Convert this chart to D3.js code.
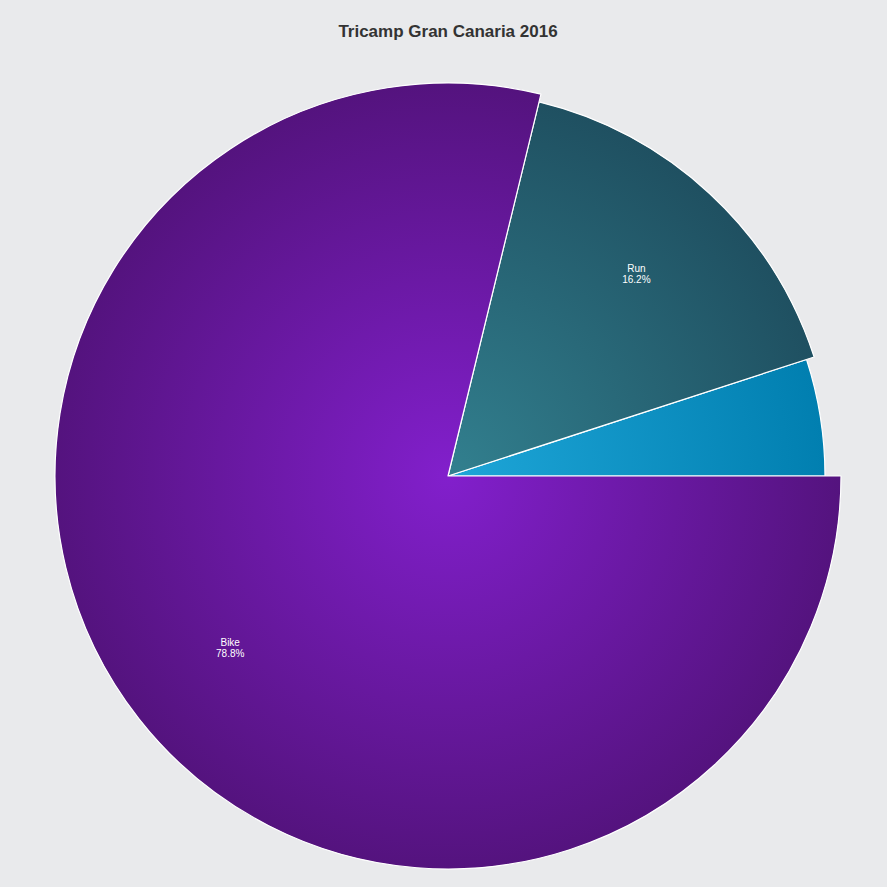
<!DOCTYPE html>
<html><head><meta charset="utf-8">
<script src="https://cdn.jsdelivr.net/npm/d3@7"></script>
<style>
html,body{margin:0;padding:0;background:#e9eaec;}
svg{display:block;}
</style></head>
<body>
<script>
const title = "Tricamp Gran Canaria 2016";
const categories = ["Swim", "Run", "Bike"];
const values = [5.0, 16.2, 78.8];
const showLabel = [false, true, true];
const innerColors = ["#1ea6d8", "#32808f", "#821fcc"];
const outerColors = ["#017fb0", "#1f5061", "#54137e"];

const W = 887, H = 887;
const cx = 448, cy = 476;
const baseR = 377, stepR = 8, labelR = 277;

const svg = d3.select("body").append("svg").attr("width", W).attr("height", H);
svg.append("rect").attr("width", W).attr("height", H).attr("fill", "#e9eaec");

svg.append("text").attr("x", 448).attr("y", 37).attr("text-anchor", "middle")
  .attr("font-family", "Liberation Sans, Arial, sans-serif").attr("font-weight", "bold")
  .attr("font-size", 17).attr("fill", "#333").text(title);

const data = categories.map((c, i) => ({cat: c, value: values[i], i}));
const pie = d3.pie().sort(null).value(d => d.value)
  .startAngle(Math.PI / 2).endAngle(Math.PI / 2 - 2 * Math.PI);
const arcsData = pie(data);

const defs = svg.append("defs");
data.forEach((d, i) => {
  const r = baseR + i * stepR;
  const g = defs.append("radialGradient").attr("id", "grad" + i)
    .attr("gradientUnits", "userSpaceOnUse").attr("cx", 0).attr("cy", 0).attr("r", r);
  g.append("stop").attr("offset", "0%").attr("stop-color", innerColors[i]);
  g.append("stop").attr("offset", "100%").attr("stop-color", outerColors[i]);
});

const gPie = svg.append("g").attr("transform", `translate(${cx},${cy})`);
gPie.selectAll("path").data(arcsData).join("path")
  .attr("d", d => d3.arc().innerRadius(0).outerRadius(baseR + d.data.i * stepR)(d))
  .attr("fill", d => `url(#grad${d.data.i})`)
  .attr("stroke", "#ffffff").attr("stroke-width", 1.2).attr("stroke-linejoin", "round");

const labelArc = d3.arc().innerRadius(labelR).outerRadius(labelR);
const labels = gPie.selectAll("g.lbl").data(arcsData.filter(d => showLabel[d.data.i])).join("g")
  .attr("class", "lbl")
  .attr("transform", d => { const c = labelArc.centroid(d); return `translate(${c[0]},${c[1]})`; });
labels.append("text").attr("text-anchor", "middle").attr("y", -1)
  .attr("font-family", "Liberation Sans, Arial, sans-serif").attr("font-size", 10)
  .attr("fill", "#ffffff").text(d => d.data.cat);
labels.append("text").attr("text-anchor", "middle").attr("y", 10)
  .attr("font-family", "Liberation Sans, Arial, sans-serif").attr("font-size", 10)
  .attr("fill", "#ffffff").text(d => d.data.value.toFixed(1) + "%");
</script>
</body></html>
